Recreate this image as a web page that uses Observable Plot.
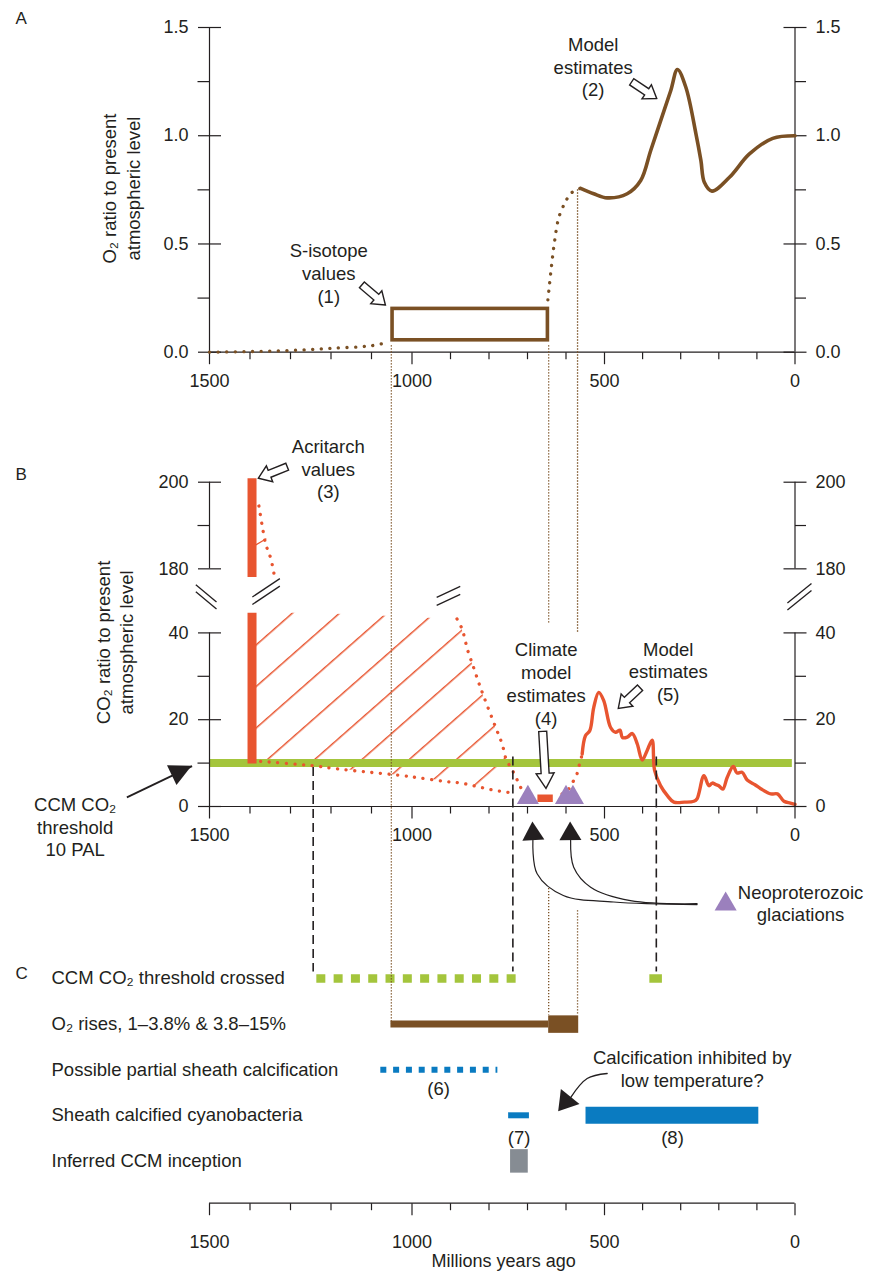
<!DOCTYPE html>
<html><head><meta charset="utf-8">
<script src="https://cdn.jsdelivr.net/npm/d3@7"></script>
<script src="https://cdn.jsdelivr.net/npm/@observablehq/plot@0.6"></script>
<style>
html,body{margin:0;padding:0;background:#fff;overflow:hidden}
#chart{position:relative;width:874px;height:1271px;background:#fff}
#chart svg{position:absolute;left:0;top:0}
</style>
</head><body><div id="chart"></div>
<script>
// ---------------- DATA ----------------
// shared time axis (Millions years ago)
const xMajor = [1500, 1000, 500, 0];
const xMinor = [1400, 1300, 1200, 1100, 900, 800, 700, 600, 400, 300, 200, 100];

// Panel A: O2 ratio to present atmospheric level
const o2Major = [0, 0.5, 1, 1.5];
const o2Minor = [0.25, 0.75, 1.25];
const o2LowAge = [1500, 1400, 1300, 1200, 1100, 1060];
const o2LowVal = [0, 0.003, 0.008, 0.018, 0.03, 0.046];
const sIsoAge = [1048, 647];
const sIsoVal = [0.055, 0.2];
const o2RiseAge = [647, 638, 629.6, 618.4, 601, 590, 574.6, 562];
const o2RiseVal = [0.242, 0.393, 0.513, 0.624, 0.696, 0.728, 0.75, 0.757];
const o2ModelAge = [562, 528, 493, 440.5, 405, 378.7, 352.5, 326, 308.5, 286.5, 260, 247, 238, 218, 172, 119.6, 58.4, 0];
const o2ModelVal = [0.757, 0.732, 0.713, 0.732, 0.793, 0.932, 1.07, 1.209, 1.306, 1.224, 1.009, 0.886, 0.785, 0.744, 0.808, 0.916, 0.988, 1.0];

// Panel B: CO2 ratio to present atmospheric level
const co2Major = [0, 20, 40, 180, 200];
const co2Minor = [10, 30, 190];
const co2Threshold = 10;
const acritarchAge = 1395;
const acritarchLow = [9.8, 178];
const acritarchHigh = [44.5, 200.8];
const acritarchUpperAge = [1378, 1370, 1362, 1355, 1349, 1341];
const acritarchUpperVal = [194.5, 190, 186, 184, 182.5, 179];
const stubAge = [1391, 1361];
const stubVal = [185.2, 186.9];
const lowerBoundAge = [1395, 1374, 1246, 1188, 1106, 1023, 982, 917, 873, 831, 789, 746];
const lowerBoundVal = [10.5, 10.4, 9.4, 8.7, 7.9, 7.1, 6.6, 5.8, 5.4, 4.6, 3.8, 3.2];
const rightBoundAge = [883, 870, 855, 841, 827, 813, 783, 766, 755, 740, 723, 710];
const rightBoundVal = [43.2, 40.9, 35.9, 32.3, 28.6, 25.2, 18.3, 14.4, 10.8, 8.5, 5.4, 2.9];
const hatchAge = [1395, 1246, 1106, 982, 917, 883, 870, 855, 841, 827, 813, 783, 766, 755, 746, 735];
const hatchLow = [10.5, 9.4, 7.9, 6.6, 5.8, 5.5, 5.3, 5.0, 4.8, 4.5, 4.2, 3.7, 3.4, 3.3, 3.2, 4.2];
const hatchHigh = [44.5, 44.5, 44, 43.5, 43.2, 43.2, 40.9, 35.9, 32.3, 28.6, 25.2, 18.3, 14.4, 10.8, 9.5, 7.5];
const glaciationAge = [699, 600, 582];
const glaciationVal = 2.07;
const climateModelAge = [673, 633];
const climateModelVal = 1.9;
const toModelAge = [610, 595, 584, 573, 567, 561, 558];
const toModelVal = [2.9, 3.8, 5.4, 7.1, 9.1, 11, 12.1];
const co2ModelAge = [558, 549.5, 538, 528, 515, 502, 484, 471, 459.5, 453, 440, 427, 414, 401, 388, 375, 368.5, 353, 335, 318, 290, 265.5, 257, 239, 226, 217, 209, 200, 189.5, 178, 162, 152, 139, 125.5, 105, 90, 63.5, 46, 29, 12, 0];
const co2ModelVal = [12.1, 16.3, 17.5, 22.8, 26.3, 24.4, 18.2, 17.1, 17.6, 15.9, 16, 16.8, 14.4, 10.7, 12.9, 15.3, 8.3, 4.8, 2.5, 1, 1, 1.2, 1.8, 7.1, 4.8, 5.4, 5.1, 4.8, 4.0, 6.7, 9.2, 7.7, 7.9, 6.1, 5, 4.1, 2.9, 2.9, 1.2, 0.8, 0.5];

// Panel C: events
const cRows = ["CCM CO\u2082 threshold crossed", "O\u2082 rises, 1\u20133.8% & 3.8\u201315%", "Possible partial sheath calcification", "Sheath calcified cyanobacteria", "Inferred CCM inception"];
const ccmCrossedStart = [1235, 381];
const ccmCrossedEnd = [722, 348];
const o2RisesStart = [1052, 645];
const o2RisesEnd = [645, 567];
const partialStart = [1077];
const partialEnd = [777];
const sheathStart = [749, 548];
const sheathEnd = [695, 95];
const inceptionStart = [744];
const inceptionEnd = [698];

// ---------------- LAYOUT / STYLE ----------------
const W = 874, H = 1271;
const INK = "#231f20", BROWN = "#7a5024", RED = "#e85530", GREEN = "#a4c53c",
      BLUE = "#0a7bc1", PURPLE = "#9b80bd", GRAY = "#868c93";
const FONT = "'Liberation Sans', Arial, Helvetica, sans-serif";
const xOpts = {type: "linear", domain: [1500, 1000, 500, 0], range: [209, 411.5, 604, 794.5]};
const yAOpts = {type: "linear", domain: [0, 1.5], range: [351.7, 27]};
const yBOpts = {type: "linear", domain: [0, 45, 178, 200], range: [806, 610.7, 577, 481.7]};
const yCOpts = {type: "linear", domain: [0, 4], range: [978, 1160.4]};
const baseStyle = {background: "transparent", overflow: "visible", fontFamily: FONT, fontSize: "18px", color: INK};
const NS = "http://www.w3.org/2000/svg";
function el(tag, attrs) { const e = document.createElementNS(NS, tag); for (const k in attrs) e.setAttribute(k, attrs[k]); return e; }
const tickShape = {draw(ctx, l) { ctx.moveTo(0, 0); ctx.lineTo(0, -l); }};
const T = {fill: INK, fontSize: 18.5, lineHeight: 1.23};
const dotted = (color) => ({stroke: color, strokeWidth: 3.3, strokeDasharray: "0.1 8.5", strokeLinecap: "round", curve: "catmull-rom"});

function vec(data, o) { return Plot.vector(data, {shape: tickShape, stroke: INK, strokeWidth: 1.2, strokeLinecap: "butt", ...o}); }
function yAxisMarks(major, minor, fmt) {
  return [
    vec(major, {x: 1500, y: d => d, rotate: 90, length: 23, anchor: "middle"}),
    vec(minor, {x: 1500, y: d => d, rotate: 90, length: 12, anchor: "end"}),
    vec(major, {x: 0, y: d => d, rotate: 90, length: 23, anchor: "middle"}),
    vec(minor, {x: 0, y: d => d, rotate: 90, length: 11, anchor: "start"}),
    Plot.text(major, {x: 1500, y: d => d, text: fmt, textAnchor: "end", dx: -21, fill: INK, fontSize: 18}),
    Plot.text(major, {x: 0, y: d => d, text: fmt, textAnchor: "start", dx: 20.5, fill: INK, fontSize: 18})
  ];
}
function xAxisMarks(yAt, labelDy) {
  return [
    Plot.ruleY([yAt], {x1: 1500, x2: 0, stroke: INK, strokeWidth: 1.2}),
    vec(xMinor, {x: d => d, y: yAt, rotate: 180, length: 7, anchor: "start"}),
    vec(xMajor, {x: d => d, y: yAt, rotate: 180, length: 12, anchor: "start"}),
    Plot.text(xMajor, {x: d => d, y: yAt, dy: labelDy, text: d => String(d), fill: INK, fontSize: 18})
  ];
}
// hollow block arrows (tip in data coords; shape in px)
function hollowArrows(list) {
  return (index, scales) => {
    const g = el("g", {});
    for (const a of list) {
      const {len: L, hl, hw, sw} = a;
      const pts = [[0,0],[-hl,hw/2],[-hl,sw/2],[-L,sw/2],[-L,-sw/2],[-hl,-sw/2],[-hl,-hw/2]];
      g.appendChild(el("path", {d: "M" + pts.map(p => p.join(",")).join("L") + "Z",
        transform: `translate(${scales.x(a.x)},${scales.y(a.y)}) rotate(${a.angle})`,
        fill: "white", stroke: INK, "stroke-width": 1.4, "stroke-linejoin": "miter"}));
    }
    return g;
  };
}
function solidHeads(list) {
  return (index, scales) => {
    const g = el("g", {});
    for (const a of list) {
      g.appendChild(el("path", {d: `M0,0L${-a.hl},${a.hw}L${-a.hl},${-a.hw}Z`,
        transform: `translate(${scales.x(a.x)},${scales.y(a.y)}) rotate(${a.angle})`, fill: INK}));
    }
    return g;
  };
}
function breakMarks(list) {
  return (index, scales) => {
    const g = el("g", {});
    const cyBase = (scales.y(45) + scales.y(178)) / 2;
    for (const b of list) {
      const cx = scales.x(b.x), cy = cyBase + b.dy;
      const r = b.angle * Math.PI / 180, ux = Math.cos(r) * b.len / 2, uy = Math.sin(r) * b.len / 2;
      for (const off of [-b.gap / 2, b.gap / 2]) {
        g.appendChild(el("line", {x1: cx - ux, y1: cy - uy + off, x2: cx + ux, y2: cy + uy + off, stroke: INK, "stroke-width": 1.3}));
      }
    }
    return g;
  };
}
function hatchDefs() {
  return () => {
    const defs = el("defs", {});
    const p = el("pattern", {id: "co2hatch", patternUnits: "userSpaceOnUse", width: 40, height: 31.18, patternTransform: "rotate(-41.3)"});
    p.appendChild(el("line", {x1: 0, x2: 40, y1: 30, y2: 30, stroke: RED, "stroke-width": 1.3}));
    defs.appendChild(p);
    return defs;
  };
}

// ---------------- PANEL A ----------------
const plotA = Plot.plot({
  width: W, height: H, margin: 0,
  x: {...xOpts, axis: null}, y: {...yAOpts, axis: null},
  style: baseStyle,
  marks: [
    Plot.ruleX([1500, 0], {y1: 0, y2: 1.5, stroke: INK, strokeWidth: 1.2}),
    ...xAxisMarks(0, 29),
    ...yAxisMarks(o2Major, o2Minor, d => d.toFixed(1)),
    Plot.line(o2LowAge, {x: o2LowAge, y: o2LowVal, ...dotted(BROWN)}),
    Plot.rect([0], {x1: sIsoAge[0], x2: sIsoAge[1], y1: sIsoVal[0], y2: sIsoVal[1], fill: "none", stroke: BROWN, strokeWidth: 3.6}),
    Plot.line(o2RiseAge, {x: o2RiseAge, y: o2RiseVal, ...dotted(BROWN)}),
    Plot.line(o2ModelAge, {x: o2ModelAge, y: o2ModelVal, stroke: BROWN, strokeWidth: 3.6, curve: "catmull-rom"}),
    Plot.text(["S-isotope\nvalues\n(1)"], {x: 1205.5, y: 0.368, ...T}),
    Plot.text(["Model\nestimates\n(2)"], {x: 529.4, y: 1.32, ...T}),
    hollowArrows([
      {x: 1064.4, y: 0.2157, angle: 40.6, len: 31, hl: 12, hw: 17, sw: 7.5},
      {x: 361.7, y: 1.17, angle: 33.6, len: 30, hl: 12, hw: 17, sw: 7.5}
    ]),
    Plot.text(["O\u2082 ratio to present\natmospheric level"], {frameAnchor: "left", dx: 120, y: 0.756, rotate: -90, textAnchor: "middle", fill: INK, fontSize: 18.5, lineHeight: 1.3}),
    Plot.text(["A"], {frameAnchor: "top-left", dx: 15, dy: 11, textAnchor: "start", lineAnchor: "top", fill: INK, fontSize: 17})
  ]
});

// ---------------- PANEL B ----------------
const plotB = Plot.plot({
  width: W, height: H, margin: 0,
  x: {...xOpts, axis: null}, y: {...yBOpts, axis: null},
  style: baseStyle,
  marks: [
    hatchDefs(),
    Plot.areaY(hatchAge, {x: hatchAge, y1: hatchLow, y2: hatchHigh, fill: "url(#co2hatch)"}),
    Plot.ruleY([co2Threshold], {x1: 1500, x2: 7, stroke: GREEN, strokeWidth: 8}),
    Plot.line(lowerBoundAge, {x: lowerBoundAge, y: lowerBoundVal, ...dotted(RED)}),
    Plot.line(rightBoundAge, {x: rightBoundAge, y: rightBoundVal, ...dotted(RED)}),
    Plot.line(acritarchUpperAge, {x: acritarchUpperAge, y: acritarchUpperVal, ...dotted(RED)}),
    Plot.line(toModelAge, {x: toModelAge, y: toModelVal, ...dotted(RED)}),
    Plot.line(stubAge, {x: stubAge, y: stubVal, stroke: RED, strokeWidth: 1.3}),
    Plot.ruleX(acritarchLow, {x: acritarchAge, y1: acritarchLow, y2: acritarchHigh, stroke: RED, strokeWidth: 9}),
    Plot.line(co2ModelAge, {x: co2ModelAge, y: co2ModelVal, stroke: RED, strokeWidth: 3.4, curve: "catmull-rom"}),
    Plot.ruleY([climateModelVal], {x1: climateModelAge[0], x2: climateModelAge[1], stroke: RED, strokeWidth: 7.5}),
    Plot.dot(glaciationAge, {x: glaciationAge, y: glaciationVal, symbol: "triangle", r: 8.2, fill: PURPLE, stroke: "none"}),
    Plot.ruleX([1500, 0], {y1: 0, y2: 40, stroke: INK, strokeWidth: 1.2}),
    Plot.ruleX([1500, 0], {y1: 180, y2: 200, stroke: INK, strokeWidth: 1.2}),
    ...xAxisMarks(0, 29),
    ...yAxisMarks(co2Major, co2Minor, d => String(d)),
    breakMarks([
      {x: 1507, dy: 3, angle: 40, len: 27, gap: 7},
      {x: 1359, dy: -2.3, angle: -33.7, len: 33, gap: 7.5},
      {x: 904, dy: 2, angle: -25, len: 26, gap: 8},
      {x: -13, dy: 3, angle: -39, len: 31, gap: 7}
    ]),
    Plot.text(["Acritarch\nvalues\n(3)"], {x: 1206.7, y: 203.2, ...T}),
    Plot.text(["Climate\nmodel\nestimates\n(4)"], {x: 651.5, y: 28.4, ...T}),
    Plot.text(["Model\nestimates\n(5)"], {x: 332.8, y: 31.2, ...T}),
    Plot.text(["CCM CO\u2082\nthreshold\n10 PAL"], {x: 1831.7, y: -4.6, ...T}),
    Plot.text(["Neoproterozoic\nglaciations"], {x: -14.5, y: -22.2, ...T, lineHeight: 1.18}),
    Plot.dot([182], {x: 182, y: -22.5, symbol: "triangle", r: 8.2, fill: PURPLE, stroke: "none"}),
    hollowArrows([
      {x: 1378, y: 200.8, angle: 158.2, len: 31, hl: 12, hw: 17, sw: 7.5},
      {x: 650.7, y: 4.08, angle: 86.7, len: 57, hl: 15, hw: 18, sw: 8},
      {x: 462.5, y: 22.5, angle: 136.5, len: 30, hl: 12, hw: 17, sw: 7.5}
    ]),
    Plot.link([0], {x1: 1704, y1: 2.1, x2: 1543, y2: 9.3, stroke: INK, strokeWidth: 1.8}),
    Plot.line([0,1,2,3,4], {x: [686, 675, 607, 476, 257], y: [-7.8, -15.5, -20.5, -22, -22.6], stroke: INK, strokeWidth: 1.2, curve: "catmull-rom"}),
    Plot.line([0,1,2,3,4], {x: [588, 580, 536, 432, 257], y: [-7.8, -14, -18.6, -21.7, -22.4], stroke: INK, strokeWidth: 1.2, curve: "catmull-rom"}),
    solidHeads([
      {x: 1543, y: 9.3, angle: -25.6, hl: 22, hw: 11},
      {x: 686, y: -3.6, angle: -93, hl: 18.5, hw: 11},
      {x: 588, y: -3.6, angle: -91, hl: 18.5, hw: 11}
    ]),
    Plot.text(["CO\u2082 ratio to present\natmospheric level"], {frameAnchor: "left", dx: 113.5, y: 37.8, rotate: -90, textAnchor: "middle", fill: INK, fontSize: 18.5, lineHeight: 1.25}),
    Plot.text(["B"], {frameAnchor: "top-left", dx: 15, dy: 467, textAnchor: "start", lineAnchor: "top", fill: INK, fontSize: 17})
  ]
});

// ---------------- PANEL C ----------------
const plotC = Plot.plot({
  width: W, height: H, margin: 0,
  x: {...xOpts, axis: null}, y: {...yCOpts, axis: null},
  style: baseStyle,
  marks: [
    ...xAxisMarks(4.928, 39),
    Plot.ruleY([0], {x1: ccmCrossedStart[0], x2: ccmCrossedEnd[0], stroke: GREEN, strokeWidth: 8.5, strokeDasharray: "9 8.3"}),
    Plot.ruleY([0], {x1: ccmCrossedStart[1], x2: ccmCrossedEnd[1], stroke: GREEN, strokeWidth: 8.5}),
    Plot.ruleY([1], {x1: o2RisesStart[0], x2: o2RisesEnd[0], stroke: BROWN, strokeWidth: 7}),
    Plot.ruleY([1], {x1: o2RisesStart[1], x2: o2RisesEnd[1], stroke: BROWN, strokeWidth: 17.5}),
    Plot.ruleY([2], {x1: partialStart[0], x2: partialEnd[0], stroke: BLUE, strokeWidth: 6, strokeDasharray: "6 6.8"}),
    Plot.ruleY([3], {x1: sheathStart[0], x2: sheathEnd[0], stroke: BLUE, strokeWidth: 6}),
    Plot.ruleY([3], {x1: sheathStart[1], x2: sheathEnd[1], stroke: BLUE, strokeWidth: 17}),
    Plot.ruleY([4], {x1: inceptionStart[0], x2: inceptionEnd[0], stroke: GRAY, strokeWidth: 23.5}),
    Plot.text(cRows, {y: (d, i) => i, frameAnchor: "left", dx: 51, textAnchor: "start", fill: INK, fontSize: 18.5}),
    Plot.text(["(6)"], {x: 931, y: 2.384, ...T}),
    Plot.text(["(7)"], {x: 722, y: 3.465, ...T}),
    Plot.text(["(8)"], {x: 321.5, y: 3.465, ...T}),
    Plot.text(["Calcification inhibited by\nlow temperature?"], {x: 269.8, y: 1.974, ...T}),
    Plot.line([0,1,2], {x: [493, 545, 588], y: [2.083, 2.193, 2.61], stroke: INK, strokeWidth: 1.3, curve: "catmull-rom"}),
    solidHeads([{x: 619, y: 2.922, angle: 129.2, hl: 19, hw: 12}]),
    Plot.text(["Millions years ago"], {x: 762, y: 6.2, fill: INK, fontSize: 18}),
    Plot.text(["C"], {frameAnchor: "top-left", dx: 15, dy: 966, textAnchor: "start", lineAnchor: "top", fill: INK, fontSize: 17})
  ]
});

// ---------------- CONNECTORS (overlay) ----------------
const sA = Plot.scale({y: yAOpts}), sB = Plot.scale({y: yBOpts}), sC = Plot.scale({y: yCOpts});
const brownLinks = [
  {x: 1051, y1: sA.apply(0.03), y2: sC.apply(1)},
  {x: 645, y1: sA.apply(0.03), y2: sB.apply(42.2)},
  {x: 645, y1: sB.apply(-18.9), y2: sC.apply(0.8)},
  {x: 570, y1: sA.apply(0.75), y2: sB.apply(39.8)},
  {x: 570, y1: sB.apply(-24), y2: sC.apply(0.8)}
];
const blackLinks = [
  {x: 1244, y1: sB.apply(9), y2: sC.apply(-0.14)},
  {x: 738, y1: sB.apply(11.4), y2: sC.apply(-0.14)},
  {x: 364, y1: sB.apply(11.4), y2: sC.apply(-0.14)}
];
const plotO = Plot.plot({
  width: W, height: H, margin: 0,
  x: {...xOpts, axis: null}, y: {type: "identity", axis: null},
  style: baseStyle,
  marks: [
    Plot.ruleX(brownLinks, {x: "x", y1: "y1", y2: "y2", stroke: BROWN, strokeWidth: 1.3, strokeDasharray: "1.3 1.7"}),
    Plot.ruleX(blackLinks, {x: "x", y1: "y1", y2: "y2", stroke: INK, strokeWidth: 1.6, strokeDasharray: "9 5"})
  ]
});

const chart = document.getElementById("chart");
for (const p of [plotA, plotB, plotC, plotO]) chart.appendChild(p);
</script></body></html>
